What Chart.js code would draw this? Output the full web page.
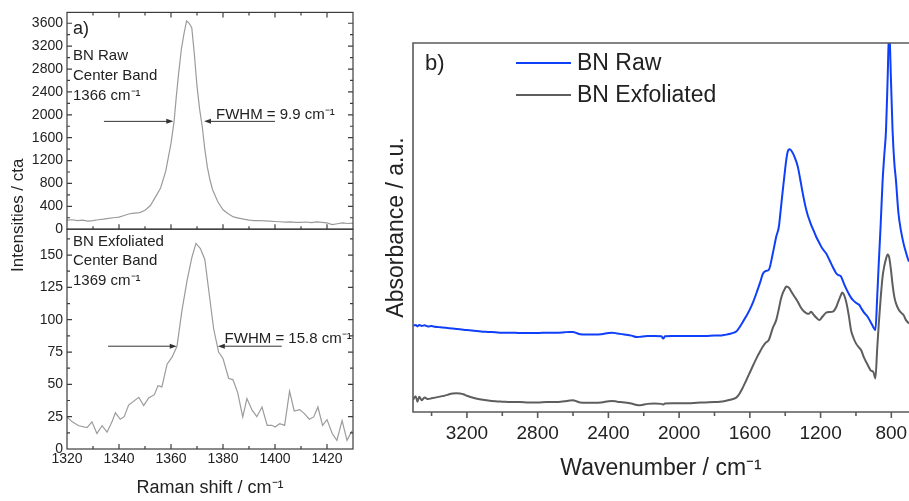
<!DOCTYPE html>
<html>
<head>
<meta charset="utf-8">
<title>BN Raman / FTIR</title>
<script src="https://cdn.jsdelivr.net/npm/chart.js@4.4.1/dist/chart.umd.min.js"></script>
<style>
  html, body { margin: 0; padding: 0; background: #fff; overflow: hidden; }
  #wrap { position: relative; width: 909px; height: 501px; }
  #ramanChart { position: absolute; left: 0; top: 0; }
  #irChart { position: absolute; left: 380px; top: 0; }
</style>
</head>
<body>
<div id="wrap">
  <canvas id="ramanChart" width="370" height="501"></canvas>
  <canvas id="irChart" width="529" height="501"></canvas>
</div>
<script>
// ---- panel a) Raman, BN raw ----
const rawShift = [1320, 1322, 1324, 1326, 1328, 1330, 1332, 1334, 1336, 1338, 1340, 1342, 1344, 1346, 1348,
  1350, 1352, 1354, 1356, 1358, 1360, 1361.2, 1362, 1363, 1364, 1365, 1366, 1367, 1368, 1369, 1370, 1371,
  1372, 1373, 1374, 1375, 1376, 1378, 1380, 1382, 1384, 1386, 1388, 1390, 1392, 1394, 1396, 1398, 1400,
  1402, 1404, 1406, 1408, 1410, 1412, 1414, 1416, 1418, 1420, 1422, 1424, 1426, 1428, 1430];
const rawCounts = [160, 165, 150, 158, 140, 150, 165, 175, 190, 200, 210, 240, 270, 280, 290,
  330, 410, 560, 720, 1020, 1500, 1890, 2300, 2750, 3150, 3420, 3640, 3600, 3520, 3050, 2500, 2100,
  1800, 1400, 1080, 860, 690, 480, 340, 270, 215, 195, 175, 160, 150, 152, 145, 140, 135,
  130, 125, 128, 118, 120, 126, 115, 128, 120, 110, 80, 95, 112, 100, 105];

// ---- panel a) Raman, BN exfoliated ----
const exfShift = [1320, 1322, 1324.5, 1327.7, 1329.6, 1331.5, 1333.5, 1335.4, 1337.3, 1338.6, 1340.5, 1342,
  1343.7, 1347.6, 1349.5, 1351.4, 1353.6, 1355, 1356.5, 1358.5, 1360.4, 1362.3, 1364.2, 1366.2, 1368.1,
  1369.6, 1371.3, 1373, 1374.5, 1376.4, 1378.3, 1380, 1382.2, 1383.8, 1385.6, 1387.6, 1389.2, 1391.2,
  1393, 1395, 1397, 1398.8, 1400, 1401.8, 1403.7, 1405.6, 1407.4, 1409.5, 1411.3, 1413.2, 1414.9,
  1416.5, 1418.3, 1420, 1422, 1423.8, 1425.8, 1427.7, 1429.6];
const exfCounts = [24.8, 21, 18, 16.5, 21, 12, 18, 13, 21, 28, 23, 25,
  34, 40, 33.6, 39.5, 42, 49, 48, 65.6, 71, 79.5, 107, 130.6, 148.7,
  159, 155, 146.6, 123, 93, 75, 70, 54.5, 53.7, 44, 24.8, 39, 30,
  25, 32.5, 18.3, 18.3, 17, 19.6, 18.3, 44.7, 29.4, 30.5, 27.4, 23, 24.8,
  32.5, 18.3, 22.7, 12, 6.7, 22, 6.7, 14];

const ramanTicks = [1320, 1340, 1360, 1380, 1400, 1420];
const rawTicks = [0, 400, 800, 1200, 1600, 2000, 2400, 2800, 3200, 3600];
const exfTicks = [0, 25, 50, 75, 100, 125, 150];

// ---- panel b) FTIR ----
const irWave = [3505, 3490, 3480, 3470, 3455, 3440, 3420, 3400, 3380, 3360, 3340, 3320, 3300, 3280, 3260,
  3240, 3220, 3200, 3160, 3120, 3080, 3040, 3000, 2950, 2900, 2850, 2800, 2750, 2700, 2650, 2620, 2600,
  2580, 2560, 2520, 2480, 2440, 2400, 2380, 2350, 2310, 2270, 2240, 2220, 2180, 2140, 2100, 2090, 2080,
  2040, 2000, 1950, 1900, 1850, 1800, 1770, 1740, 1710, 1690, 1677, 1665, 1640, 1620, 1602, 1580, 1560,
  1540, 1527, 1510, 1493, 1470, 1451, 1436, 1425, 1414, 1400, 1395, 1386, 1376, 1365, 1348, 1329, 1315,
  1301, 1287, 1273, 1263, 1254, 1240, 1225, 1207, 1190, 1169, 1150, 1131, 1112, 1103, 1084, 1078, 1068,
  1056, 1040, 1028, 1018, 1000, 981, 971, 955, 934, 915, 902, 890, 880, 871, 860, 849, 840, 830, 821,
  812, 802, 793, 783, 774, 760, 746, 730, 717, 704, 700];
const irRaw = [23.4, 23.6, 23.2, 23.6, 23.3, 23.5, 23.2, 23.3, 23.1, 23.0, 22.9, 22.8, 22.7, 22.6, 22.5,
  22.4, 22.3, 22.2, 22.0, 21.8, 21.7, 21.6, 21.5, 21.5, 21.4, 21.4, 21.4, 21.5, 21.5, 21.6, 21.7, 21.7,
  21.4, 21.1, 21.0, 21.0, 21.1, 21.4, 21.5, 21.3, 21.0, 20.7, 20.3, 20.4, 20.6, 20.6, 20.5, 19.9, 20.5,
  20.6, 20.6, 20.6, 20.6, 20.6, 20.7, 20.7, 20.9, 21.2, 21.5, 21.8, 22.5, 24.4, 26.0, 27.6, 30.0, 32.6,
  35.4, 37.4, 38.2, 38.5, 43.0, 47.5, 50.2, 55.0, 60.0, 66.0, 68.0, 70.5, 71.2, 70.8, 69.2, 66.5, 63.0,
  59.3, 56.0, 53.4, 52.0, 50.8, 49.2, 47.5, 45.8, 44.3, 43.0, 41.2, 39.3, 37.6, 37.2, 36.7, 36.0, 34.8,
  33.5, 32.0, 31.0, 30.4, 29.6, 29.0, 28.2, 27.0, 25.8, 24.2, 23.0, 22.2, 31.0, 40.3, 51.0, 62.9, 69.5, 76.4, 90.0,
  104.0, 90.0, 76.4, 67.5, 62.9, 54.0, 49.3, 45.5, 43.2, 41.2, 40.8];
const irExf = [3.3, 4.3, 2.8, 4.1, 3.2, 3.9, 3.5, 3.7, 3.9, 4.1, 4.3, 4.5, 4.8, 5.0, 5.1,
  5.0, 4.8, 4.4, 3.8, 3.4, 3.1, 2.9, 2.8, 2.7, 2.7, 2.6, 2.6, 2.7, 2.7, 2.9, 3.1, 3.2,
  2.9, 2.6, 2.5, 2.5, 2.6, 2.9, 3.0, 2.8, 2.6, 2.3, 1.9, 1.8, 2.2, 2.3, 2.2, 2.0, 2.3,
  2.4, 2.4, 2.4, 2.5, 2.6, 2.7, 2.8, 3.0, 3.3, 3.6, 3.9, 4.5, 6.6, 8.6, 10.5, 12.8, 14.8,
  16.6, 17.7, 18.8, 19.5, 22.8, 24.9, 28.0, 30.5, 32.2, 33.6, 34.0, 33.9, 33.5, 32.6, 31.3, 29.9, 28.6,
  27.6, 27.0, 26.6, 26.7, 27.2, 26.4, 25.6, 24.9, 25.8, 26.9, 27.1, 27.2, 28.4, 29.5, 31.8, 32.4, 31.8,
  30.0, 26.0, 22.2, 20.6, 18.6, 17.4, 16.8, 14.8, 12.8, 11.2, 10.9, 9.1, 17.0, 23.8, 31.0, 36.8, 39.5, 41.5, 42.7,
  41.9, 38.5, 34.5, 31.2, 29.5, 27.9, 27.0, 26.2, 24.9, 24.2, 24.0];
const irTicks = [800, 1200, 1600, 2000, 2400, 2800, 3200];

const FONT = "Arial, 'Liberation Sans', sans-serif";
Chart.defaults.font.family = FONT;
Chart.defaults.color = "#222";

function toPoints(xs, ys) {
  return xs.map((x, i) => ({ x: x, y: ys[i] }));
}

// plain numbers, no thousands separator
const plain = (v) => String(v);

function arrow(ctx, x0, x1, y) {
  const dir = x1 > x0 ? 1 : -1;
  ctx.beginPath();
  ctx.moveTo(x0, y);
  ctx.lineTo(x1 - dir * 6, y);
  ctx.stroke();
  ctx.beginPath();
  ctx.moveTo(x1, y);
  ctx.lineTo(x1 - dir * 7, y - 2.5);
  ctx.lineTo(x1 - dir * 7, y + 2.5);
  ctx.closePath();
  ctx.fill();
}

// frame, inner ticks and annotations of panel a
const ramanDecor = {
  id: "ramanDecor",
  afterDatasetsDraw(chart) {
    const { ctx, scales } = chart;
    const x = scales.x, yTop = scales.yTop, yBot = scales.yBot;
    ctx.save();
    ctx.strokeStyle = "#3c3c3c";
    ctx.lineWidth = 1.2;
    [yTop, yBot].forEach(function (y) {
      ctx.strokeRect(x.left, y.top, x.right - x.left, y.bottom - y.top);
    });

    ctx.beginPath();
    for (let v = 1330; v < 1430; v += 10) {
      const px = x.getPixelForValue(v);
      const len = v % 20 === 0 ? 5 : 3;
      ctx.moveTo(px, yBot.bottom); ctx.lineTo(px, yBot.bottom - len);
      ctx.moveTo(px, yTop.bottom); ctx.lineTo(px, yTop.bottom - len);
      ctx.moveTo(px, yTop.top); ctx.lineTo(px, yTop.top + len);
    }
    [[yTop, 200, 400], [yBot, 12.5, 25]].forEach(function (s) {
      const y = s[0];
      for (let v = s[1]; v < y.max; v += s[1]) {
        const py = y.getPixelForValue(v);
        const len = v % s[2] === 0 ? 5 : 3;
        ctx.moveTo(x.left, py); ctx.lineTo(x.left + len, py);
        ctx.moveTo(x.right, py); ctx.lineTo(x.right - len, py);
      }
    });
    ctx.stroke();

    // texts
    ctx.fillStyle = "#222";
    ctx.textBaseline = "middle";
    ctx.textAlign = "left";
    const tx = x.left + 6;
    ctx.font = "18px " + FONT;
    ctx.fillText("a)", tx, yTop.top + 17);
    ctx.font = "15px " + FONT;
    ctx.fillText("BN Raw", tx, yTop.top + 43);
    ctx.fillText("Center Band", tx, yTop.top + 63);
    ctx.fillText("1366 cm\u207B\u00B9", tx, yTop.top + 83);
    ctx.fillText("BN Exfoliated", tx, yBot.top + 13);
    ctx.fillText("Center Band", tx, yBot.top + 32);
    ctx.fillText("1369 cm\u207B\u00B9", tx, yBot.top + 52);
    ctx.fillText("FWHM = 9.9 cm\u207B\u00B9", x.getPixelForValue(1377.3), yTop.getPixelForValue(1995));
    ctx.fillText("FWHM = 15.8 cm\u207B\u00B9", x.getPixelForValue(1380.6), yBot.getPixelForValue(85));

    // FWHM arrows
    ctx.strokeStyle = "#333";
    ctx.fillStyle = "#333";
    ctx.lineWidth = 1;
    const yA = yTop.getPixelForValue(1885);
    arrow(ctx, x.getPixelForValue(1334.2), x.getPixelForValue(1360.9), yA);
    arrow(ctx, x.getPixelForValue(1400), x.getPixelForValue(1372.7), yA);
    const yB = yBot.getPixelForValue(79.5);
    arrow(ctx, x.getPixelForValue(1335.8), x.getPixelForValue(1362.2), yB);
    arrow(ctx, x.getPixelForValue(1402.6), x.getPixelForValue(1378), yB);

    // shared y title
    ctx.fillStyle = "#222";
    ctx.font = "17px " + FONT;
    ctx.textAlign = "center";
    ctx.translate(18, yTop.bottom - 14);
    ctx.rotate(-Math.PI / 2);
    ctx.fillText("Intensities / cta", 0, 0);
    ctx.restore();
  }
};

const ramanChart = new Chart(document.getElementById("ramanChart"), {
  type: "line",
  data: {
    datasets: [
      {
        label: "BN Raw",
        data: toPoints(rawShift, rawCounts),
        yAxisID: "yTop",
        borderColor: "#9b9b9b",
        borderWidth: 1.2,
        pointRadius: 0,
        tension: 0,
      },
      {
        label: "BN Exfoliated",
        data: toPoints(exfShift, exfCounts),
        yAxisID: "yBot",
        borderColor: "#9b9b9b",
        borderWidth: 1.2,
        pointRadius: 0,
        tension: 0,
      },
    ],
  },
  options: {
    responsive: false,
    animation: false,
    devicePixelRatio: 1,
    layout: { padding: { left: 6, top: 12, right: 17, bottom: 0 } },
    plugins: { legend: { display: false }, tooltip: { enabled: false } },
    scales: {
      x: {
        type: "linear",
        min: 1320,
        max: 1430,
        grid: { display: false, drawTicks: false },
        border: { display: false },
        afterBuildTicks: (s) => { s.ticks = ramanTicks.map((v) => ({ value: v })); },
        afterFit: (s) => { s.height = 52; },
        ticks: { font: { size: 14 }, padding: 2, maxRotation: 0, autoSkip: false, callback: plain },
        title: { display: true, text: "Raman shift / cm\u207B\u00B9", font: { size: 18 }, padding: { top: 0, bottom: 2 } },
      },
      yBot: {
        type: "linear",
        position: "left",
        stack: "raman",
        stackWeight: 220,
        min: 0,
        max: 170,
        grid: { display: false, drawTicks: false },
        border: { display: false },
        afterBuildTicks: (s) => { s.ticks = exfTicks.map((v) => ({ value: v })); },
        afterFit: (s) => { s.width = 61; },
        ticks: { font: { size: 14 }, padding: 4, autoSkip: false, callback: plain },
      },
      yTop: {
        type: "linear",
        position: "left",
        stack: "raman",
        stackWeight: 217,
        min: 0,
        max: 3790,
        grid: { display: false, drawTicks: false },
        border: { display: false },
        afterBuildTicks: (s) => { s.ticks = rawTicks.map((v) => ({ value: v })); },
        afterFit: (s) => { s.width = 61; },
        ticks: { font: { size: 14 }, padding: 4, autoSkip: false, callback: plain },
      },
    },
  },
  plugins: [ramanDecor],
});

// frame, outer ticks, label and legend of panel b
const irDecor = {
  id: "irDecor",
  afterDatasetsDraw(chart) {
    const { ctx, chartArea, scales } = chart;
    const x = scales.x;
    ctx.save();
    ctx.strokeStyle = "#5a5a5a";
    ctx.lineWidth = 1.6;
    ctx.beginPath();
    ctx.moveTo(chartArea.right + 2, chartArea.top);
    ctx.lineTo(chartArea.left, chartArea.top);
    ctx.lineTo(chartArea.left, chartArea.bottom);
    ctx.lineTo(chartArea.right + 2, chartArea.bottom);
    for (let v = 3400; v >= x.min; v -= 200) {
      const px = x.getPixelForValue(v);
      const len = v % 400 === 0 ? 6 : 4;
      ctx.moveTo(px, chartArea.bottom);
      ctx.lineTo(px, chartArea.bottom + len);
    }
    ctx.stroke();

    ctx.fillStyle = "#222";
    ctx.textBaseline = "middle";
    ctx.textAlign = "left";
    ctx.font = "22px " + FONT;
    ctx.fillText("b)", chartArea.left + 12, chartArea.top + 21);

    ctx.font = "23px " + FONT;
    chart.data.datasets.forEach(function (ds, i) {
      const ly = chartArea.top + 20 + i * 32;
      ctx.strokeStyle = ds.borderColor;
      ctx.lineWidth = 2;
      ctx.beginPath();
      ctx.moveTo(chartArea.left + 103, ly);
      ctx.lineTo(chartArea.left + 158, ly);
      ctx.stroke();
      ctx.fillText(ds.label, chartArea.left + 164, ly + 1);
    });
    ctx.restore();
  }
};

const irChart = new Chart(document.getElementById("irChart"), {
  type: "line",
  data: {
    datasets: [
      {
        label: "BN Raw",
        data: toPoints(irWave, irRaw),
        borderColor: "#0f3ff8",
        borderWidth: 2,
        pointRadius: 0,
        cubicInterpolationMode: "monotone",
      },
      {
        label: "BN Exfoliated",
        data: toPoints(irWave, irExf),
        borderColor: "#5e5e5e",
        borderWidth: 2,
        pointRadius: 0,
        cubicInterpolationMode: "monotone",
      },
    ],
  },
  options: {
    responsive: false,
    animation: false,
    devicePixelRatio: 1,
    layout: { padding: { left: 0, top: 43, right: 0, bottom: 0 } },
    plugins: { legend: { display: false }, tooltip: { enabled: false } },
    scales: {
      x: {
        type: "linear",
        reverse: true,
        min: 700,
        max: 3505,
        grid: { display: false, drawTicks: false },
        border: { display: false },
        afterBuildTicks: (s) => { s.ticks = irTicks.map((v) => ({ value: v })); },
        afterFit: (s) => { s.height = 89; },
        ticks: { font: { size: 19 }, padding: 10, maxRotation: 0, autoSkip: false, callback: plain },
        title: { display: true, text: "Wavenumber / cm\u207B\u00B9", font: { size: 23 }, padding: { top: 0, bottom: 19 } },
      },
      y: {
        type: "linear",
        min: 0,
        max: 100,
        grid: { display: false, drawTicks: false },
        border: { display: false },
        ticks: { display: false },
        afterFit: (s) => { s.width = 33; },
        title: { display: true, text: "Absorbance / a.u.", font: { size: 23 }, padding: { top: 3, bottom: 0 } },
      },
    },
  },
  plugins: [irDecor],
});
</script>
</body>
</html>
